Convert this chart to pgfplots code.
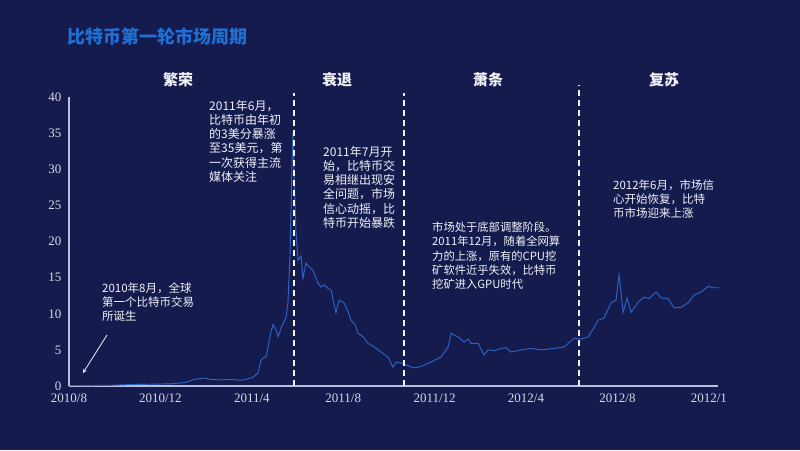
\documentclass[border=0pt]{standalone}
\usepackage{fontspec}
\usepackage{pgfplots}
\pgfplotsset{compat=1.18}
\setmainfont{Liberation Serif}
\newfontfamily\cjk{Noto Sans CJK SC}
\definecolor{bg}{RGB}{22,27,78}
\definecolor{ttl}{RGB}{32,112,212}
\definecolor{ln}{RGB}{42,100,198}
\definecolor{axl}{RGB}{185,190,220}
\definecolor{tkl}{RGB}{215,218,230}
\definecolor{txt}{RGB}{240,242,248}
\begin{document}
\begin{tikzpicture}[x=1pt,y=1pt]
\fill[bg] (0,0) rectangle (800,450);
\useasboundingbox (0,0) rectangle (800,450);
% title
\node[anchor=west,inner sep=0,text=ttl,font=\cjk\bfseries\fontsize{18}{20}\selectfont] at (67,413) {比特币第一轮市场周期};
% phase headers
\begin{scope}[every node/.style={inner sep=0,text=txt,font=\cjk\bfseries\fontsize{15}{17}\selectfont}]
\node at (178,370) {繁荣};
\node at (337,370) {衰退};
\node at (488,370) {萧条};
\node at (664,370) {复苏};
\end{scope}
\begin{axis}[
  at={(69pt,64pt)}, anchor=south west,
  scale only axis, width=649pt, height=289pt,
  xmin=0, xmax=28.4, ymin=0, ymax=40,
  axis x line=bottom, axis y line=left,
  axis line style={-,draw=axl,line width=1.1pt},
  xtick={0,4,...,28},
  xticklabels={2010/8,2010/12,2011/4,2011/8,2011/12,2012/4,2012/8,2012/1},
  ytick={0,5,...,40},
  major tick length=0pt,
  /pgf/number format/assume math mode=true,
  tick label style={text=tkl,font=\fontsize{13}{15}\selectfont},
  xticklabel style={yshift=-4pt},
  yticklabel style={xshift=-4pt},
  clip=false,
]
\addplot[ln, line width=0.95pt] coordinates {
(0.04,0.07) (0.96,0.06) (1.84,0.1) (2.71,0.2) (3.59,0.25) (4.46,0.3) (5.12,0.5)
(5.47,0.9) (5.69,1.0) (5.91,1.1) (6.21,0.9) (6.65,0.85) (7.09,0.9) (7.53,0.8)
(7.83,1.0) (8.05,1.2) (8.27,1.8) (8.40,3.5) (8.49,3.9) (8.62,4.0) (8.71,5.4)
(8.84,7.5) (8.93,8.5) (9.06,7.8) (9.15,6.8) (9.28,8.0) (9.37,8.7) (9.50,9.5)
(9.58,11.5) (9.67,18.0) (9.72,25) (9.76,31) (9.80,35) (9.85,29) (9.93,21.6)
(10.02,17.4) (10.15,18.0) (10.24,14.9) (10.37,17.0) (10.50,16.5) (10.68,16.0)
(10.90,14.2) (11.03,13.7) (11.16,14.0) (11.33,13.5) (11.47,13.3) (11.68,10.1)
(11.82,11.9) (12.04,11.5) (12.21,10.3) (12.34,9.1) (12.52,8.5) (12.65,7.3)
(12.87,6.8) (13.09,5.9) (13.35,5.4) (13.65,4.7) (13.96,4.0) (14.18,2.6)
(14.31,3.3) (14.53,3.2) (14.75,2.9) (15.10,2.5) (15.40,2.7) (15.84,3.3)
(16.28,4.0) (16.59,5.4) (16.72,7.3) (17.02,6.8) (17.29,6.1) (17.46,6.5)
(17.59,5.9) (17.90,5.9) (18.16,4.3) (18.34,5.0) (18.60,4.9) (18.91,5.2)
(19.12,5.3) (19.34,4.7) (19.78,5.0) (20.22,5.2) (20.66,5.0) (21.23,5.2)
(21.66,5.4) (22.10,6.6) (22.41,6.5) (22.71,6.8) (22.93,7.8) (23.15,9.1)
(23.41,9.4) (23.72,11.5) (23.94,11.9) (24.07,15.4) (24.25,10.2) (24.42,12.2)
(24.60,10.2) (24.90,11.6) (25.16,12.3) (25.38,12.1) (25.69,13.0) (25.91,12.2)
(26.21,12.1) (26.48,10.8) (26.78,10.9) (27.09,11.5) (27.35,12.6) (27.66,13.0)
(27.97,13.8) (28.18,13.6) (28.45,13.6)
};
\draw[txt, line width=1.3pt, dash pattern=on 6pt off 4pt] (axis cs:9.85,0) -- (axis cs:9.85,40.6);
\draw[txt, line width=1.3pt, dash pattern=on 6pt off 4pt] (axis cs:14.66,0) -- (axis cs:14.66,40.6);
\draw[txt, line width=1.3pt, dash pattern=on 6pt off 4pt] (axis cs:22.32,0) -- (axis cs:22.32,41.6);
\end{axis}
% annotations
\begin{scope}[every node/.style={anchor=north west,inner sep=0,align=left,text=txt,font=\cjk\fontsize{12}{14.2}\selectfont}]
\node at (209,350) {2011年6月，\\比特币由年初\\的3美分暴涨\\至35美元，第\\一次获得主流\\媒体关注};
\node at (323,304) {2011年7月开\\始，比特币交\\易相继出现安\\全问题，市场\\信心动摇，比\\特币开始暴跌};
\node[font=\cjk\fontsize{11.3}{14.2}\selectfont] at (432,228) {市场处于底部调整阶段。\\2011年12月，随着全网算\\力的上涨，原有的CPU挖\\矿软件近乎失效，比特币\\挖矿进入GPU时代};
\node[font=\cjk\fontsize{11.5}{14}\selectfont] at (613,270) {2012年6月，市场信\\心开始恢复，比特\\币市场迎来上涨};
\node[font=\cjk\fontsize{11.5}{14}\selectfont] at (102,167) {2010年8月，全球\\第一个比特币交易\\所诞生};
\end{scope}
\draw[txt, line width=0.8pt, -stealth] (107,115) -- (83,77);
\end{tikzpicture}
\end{document}
